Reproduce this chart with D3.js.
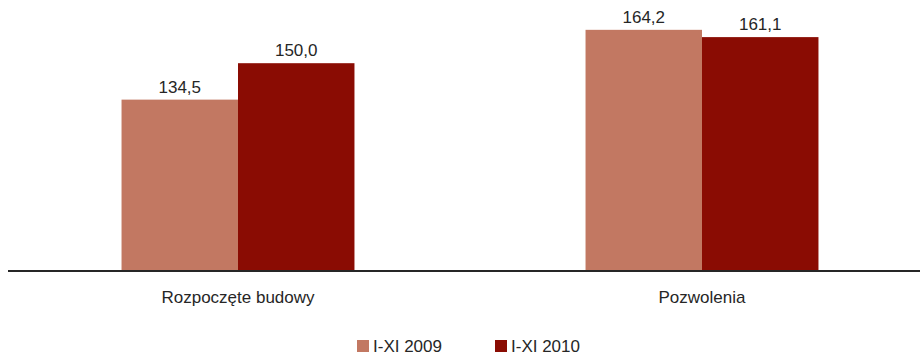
<!DOCTYPE html>
<html>
<head>
<meta charset="utf-8">
<script src="https://cdn.jsdelivr.net/npm/d3@7"></script>
<style>
  html, body { margin: 0; padding: 0; background: #fff; }
  svg { display: block; font-family: "Liberation Sans", Arial, sans-serif; }
</style>
</head>
<body>
<div id="chart"></div>
<script>
var categories = ['Rozpoczęte budowy', 'Pozwolenia'];
var seriesNames = ['I-XI 2009', 'I-XI 2010'];
var values2009 = [134.5, 164.2];
var values2010 = [150.0, 161.1];
var seriesColors = ['#c27862', '#8a0c03'];

function drawChart() {
    var width = 920, height = 356;
    var baseY = 270;
    var fontSize = 17;

    var svg = d3.select('#chart')
        .append('svg')
        .attr('width', width)
        .attr('height', height);

    var x = d3.scaleBand()
        .domain(categories)
        .range([6, 934])
        .paddingInner(0.498)
        .paddingOuter(0.249);

    var xs = d3.scaleBand()
        .domain(seriesNames)
        .range([0, x.bandwidth()]);

    var y = d3.scaleLinear()
        .domain([62, 170])
        .range([baseY, baseY - 108 * 2.35]);

    var fmt = function(v) { return d3.format('.1f')(v).replace('.', ','); };

    var rows = categories.map(function(c, i) {
        return { cat: c, vals: [values2009[i], values2010[i]] };
    });

    var groups = svg.selectAll('g.grp').data(rows).enter().append('g')
        .attr('class', 'grp')
        .attr('transform', function(d) { return 'translate(' + x(d.cat) + ',0)'; });

    groups.selectAll('rect').data(function(d) {
            return d.vals.map(function(v, j) { return { s: seriesNames[j], v: v, j: j }; });
        }).enter().append('rect')
        .attr('x', function(d) { return xs(d.s); })
        .attr('y', function(d) { return y(d.v); })
        .attr('width', xs.bandwidth())
        .attr('height', function(d) { return baseY - y(d.v); })
        .attr('fill', function(d) { return seriesColors[d.j]; });

    groups.selectAll('text.val').data(function(d) {
            return d.vals.map(function(v, j) { return { s: seriesNames[j], v: v }; });
        }).enter().append('text')
        .attr('class', 'val')
        .attr('x', function(d) { return xs(d.s) + xs.bandwidth() / 2; })
        .attr('y', function(d) { return y(d.v) - 7; })
        .attr('text-anchor', 'middle')
        .attr('font-size', fontSize)
        .attr('fill', '#262626')
        .text(function(d) { return fmt(d.v); });

    // baseline axis
    var axis = svg.append('g')
        .attr('transform', 'translate(0,' + (baseY + 1) + ')')
        .call(d3.axisBottom(x).tickSize(0).tickPadding(20));
    axis.select('.domain').attr('d', 'M8,0H920').attr('stroke', '#262626').attr('stroke-width', 2);
    axis.selectAll('text')
        .attr('font-size', fontSize)
        .attr('font-family', '"Liberation Sans", Arial, sans-serif')
        .attr('fill', '#262626');

    // legend
    var legendX = [357, 495];
    var legend = svg.selectAll('g.leg').data(seriesNames).enter().append('g')
        .attr('class', 'leg')
        .attr('transform', function(d, i) { return 'translate(' + legendX[i] + ',340)'; });
    legend.append('rect')
        .attr('width', 12).attr('height', 12)
        .attr('fill', function(d, i) { return seriesColors[i]; });
    legend.append('text')
        .attr('x', 16).attr('y', 12)
        .attr('font-size', fontSize)
        .attr('fill', '#262626')
        .text(function(d) { return d; });
}

document.addEventListener('DOMContentLoaded', drawChart);
</script>
</body>
</html>
